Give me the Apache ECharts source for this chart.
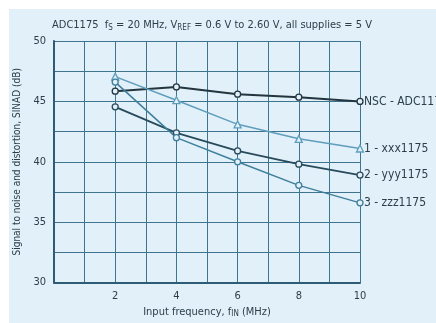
<!DOCTYPE html>
<html>
<head>
<meta charset="utf-8">
<script src="https://cdn.jsdelivr.net/npm/echarts@6/dist/echarts.min.js"></script>
<style>
  html, body { margin:0; padding:0; background:#fff; }
  #chart { width:436px; height:323px; }
</style>
</head>
<body>
<div id="chart"></div>
<script>
var freqs = [2, 4, 6, 8, 10];
var nscAdc = [45.85, 46.2, 45.6, 45.35, 45.0];
var xxx = [47.05, 45.1, 43.1, 41.9, 41.1];
var yyy = [44.55, 42.4, 40.9, 39.8, 38.9];
var zzz = [46.6, 42.0, 40.0, 38.05, 36.6];
var seriesNames = ['NSC - ADC1175', '1 - xxx1175', '2 - yyy1175', '3 - zzz1175'];
var xTicks = [2, 4, 6, 8, 10];
var yTicks = [30, 35, 40, 45, 50];

var font = "'Liberation Sans Narrow', 'DejaVu Sans Condensed', sans-serif";
var bg = '#e1f0f9';

function pairs(vals) {
    return freqs.map(function (f, i) { return [f, vals[i]]; });
}

function makeSeries(name, vals, color, width, symbol) {
    return {
        name: name,
        type: 'line',
        data: pairs(vals),
        symbol: symbol,
        symbolSize: symbol == 'triangle' ? 7 : 6,
        lineStyle: { color: color, width: width },
        itemStyle: { color: bg, borderColor: color, borderWidth: 1.3 },
        endLabel: {
            show: true,
            formatter: name,
            color: '#2c3e48',
            fontFamily: font,
            fontSize: 12,
            distance: 4
        },
        z: 3
    };
}

var chart = echarts.init(document.getElementById('chart'));
var option = {
    backgroundColor: bg,
    animation: false,
    graphic: [
        { type: 'rect', shape: { x: 0, y: 0, width: 436, height: 9 }, style: { fill: '#fff' } },
        { type: 'rect', shape: { x: 0, y: 0, width: 9, height: 323 }, style: { fill: '#fff' } },
        {
            type: 'text', left: 52, top: 20,
            style: {
                text: 'ADC1175  {s|f}{sub|S} = 20 MHz, V{sub|REF} = 0.6 V to 2.60 V, all supplies = 5 V',
                fill: '#2c3e48', font: '11px ' + font,
                rich: {
                    s: { fontFamily: font, fontSize: 11, fill: '#2c3e48' },
                    sub: { fontFamily: font, fontSize: 8, fill: '#2c3e48', verticalAlign: 'bottom', padding: [4, 0, 0, 0] }
                }
            }
        }
    ],
    grid: { left: 54, right: 76, top: 41, bottom: 37 },
    xAxis: {
        type: 'value',
        min: 0, max: 10, interval: 1,
        name: 'Input frequency, {i|f}{sub|IN} (MHz)',
        nameLocation: 'middle',
        nameGap: 22,
        nameTextStyle: {
            color: '#2c3e48', fontFamily: font, fontSize: 11,
            rich: { i: { fontFamily: font, fontSize: 11, color: '#2c3e48' }, sub: { fontFamily: font, fontSize: 8, color: '#2c3e48', verticalAlign: 'bottom', padding: [4, 0, 0, 0] } }
        },
        axisLine: { show: true, lineStyle: { color: '#2e5c74', width: 2 } },
        axisTick: { show: false },
        splitLine: { show: true, lineStyle: { color: '#3f7490', width: 1 } },
        axisLabel: {
            color: '#2c3e48', fontFamily: font, fontSize: 11, margin: 8,
            formatter: function (v) { return xTicks.indexOf(v) >= 0 ? String(v) : ''; }
        }
    },
    yAxis: {
        type: 'value',
        min: 30, max: 50, interval: 2.5,
        name: 'Signal to noise and distortion, SINAD (dB)',
        nameLocation: 'middle',
        nameGap: 30,
        nameTextStyle: { color: '#2c3e48', fontFamily: font, fontSize: 10 },
        axisLine: { show: true, lineStyle: { color: '#2e5c74', width: 2 } },
        axisTick: { show: false },
        splitLine: { show: true, lineStyle: { color: '#3f7490', width: 1 } },
        axisLabel: {
            color: '#2c3e48', fontFamily: font, fontSize: 11, margin: 8,
            formatter: function (v) { return yTicks.indexOf(v) >= 0 ? String(v) : ''; }
        }
    },
    series: [
        makeSeries(seriesNames[0], nscAdc, '#23353f', 2, 'circle'),
        makeSeries(seriesNames[1], xxx, '#5f9dbd', 1.5, 'triangle'),
        makeSeries(seriesNames[2], yyy, '#284b5c', 1.8, 'circle'),
        makeSeries(seriesNames[3], zzz, '#3f7f9c', 1.5, 'circle')
    ]
};
chart.setOption(option);
</script>
</body>
</html>
